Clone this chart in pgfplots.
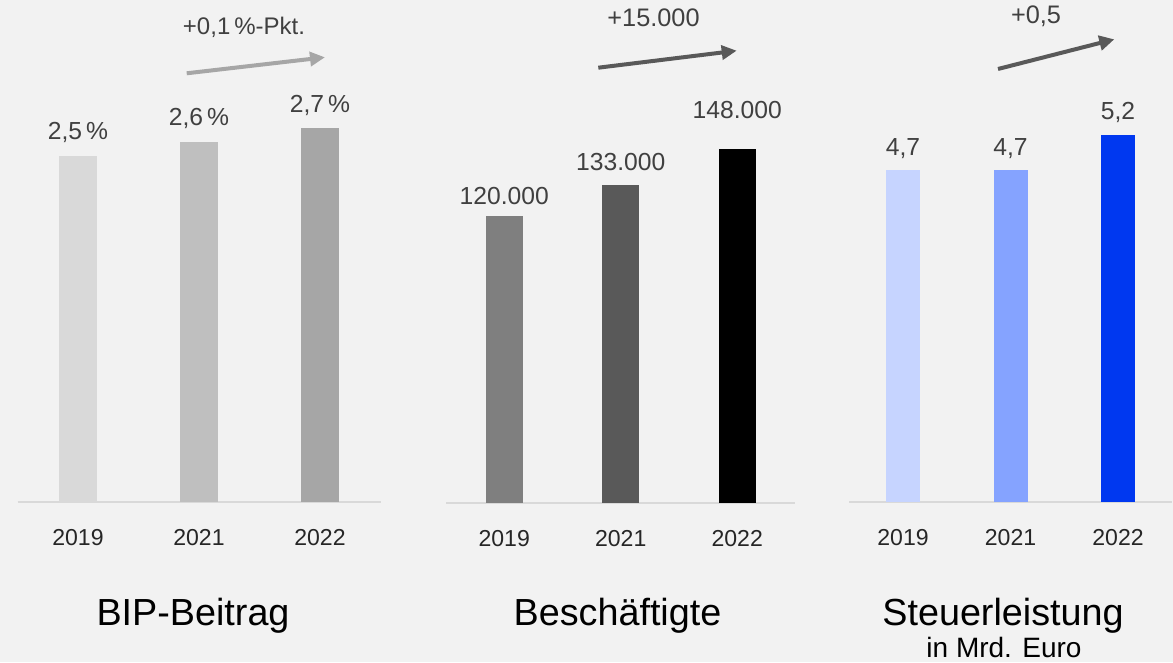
\documentclass[border=0pt]{standalone}
\usepackage{fontspec}
\setmainfont{Liberation Sans}
\usepackage{pgfplots}
\pgfplotsset{compat=1.18}
\usetikzlibrary{arrows.meta}
\definecolor{bg}{HTML}{F2F2F2}
\definecolor{basec}{HTML}{D9D9D9}
\definecolor{valc}{HTML}{404040}
\definecolor{tickc}{HTML}{262626}
\definecolor{ga}{HTML}{D9D9D9}
\definecolor{gb}{HTML}{BFBFBF}
\definecolor{gc}{HTML}{A6A6A6}
\definecolor{da}{HTML}{7F7F7F}
\definecolor{db}{HTML}{595959}
\definecolor{dc}{HTML}{000000}
\definecolor{ba}{HTML}{C6D4FF}
\definecolor{bb}{HTML}{85A3FF}
\definecolor{bc}{HTML}{0038F0}
\pgfplotsset{
  panel/.style={
    scale only axis, anchor=south west,
    axis y line=none, axis x line=bottom,
    x axis line style={-, draw=basec, line width=1.5pt},
    xmin=-0.5, xmax=2.5, ymin=0,
    enlargelimits=false, clip=false,
    xtick={0,1,2}, xticklabels={2019,2021,2022},
    major tick length=0pt, ytick=\empty,
    xticklabel style={font=\fontsize{17.3}{19}\selectfont, text=tickc, anchor=center, yshift=-27pt},
    ybar, bar shift=0pt,
    point meta=explicit symbolic,
  },
  lab/.style={nodes near coords,
    nodes near coords style={anchor=base, inner sep=0pt, yshift=#1, font=\fontsize{18.5}{20}\selectfont, text=valc}},
}
\begin{document}
\begin{tikzpicture}
\begin{scope}[x=0.75pt,y=0.75pt]
\fill[bg] (0,0) rectangle (1173,662);
\useasboundingbox (0,0) rectangle (1173,662);
\end{scope}

% Panel 1: BIP-Beitrag
\begin{axis}[panel, at={(13.125pt,120pt)}, width=272.25pt, height=311.4pt, ymax=3]
\addplot[fill=ga, draw=none, bar width=28.5pt, lab=12.4pt] coordinates {(0,2.5) [2,5\,\%]};
\addplot[fill=gb, draw=none, bar width=28.5pt, lab=12.2pt] coordinates {(1,2.6) [2,6\,\%]};
\addplot[fill=gc, draw=none, bar width=28.5pt, lab=12.2pt] coordinates {(2,2.7) [2,7\,\%]};
\end{axis}

% Panel 2: Beschaeftigte
\begin{axis}[panel, at={(334.5pt,119.625pt)}, width=262.1pt, height=286.35pt, ymax=160000]
\addplot[fill=da, draw=none, bar width=27.75pt, lab=8.8pt] coordinates {(0,120000) [120.000]};
\addplot[fill=db, draw=none, bar width=27.75pt, lab=10.7pt] coordinates {(1,133000) [133.000]};
\addplot[fill=dc, draw=none, bar width=27.75pt, lab=23pt] coordinates {(2,148000) [148.000]};
\end{axis}

% Panel 3: Steuerleistung
\begin{axis}[panel, at={(636.94pt,120pt)}, width=241.9pt, height=317.7pt, ymax=6]
\addplot[fill=ba, draw=none, bar width=25.5pt, lab=11.25pt] coordinates {(0,4.7) [4,7]};
\addplot[fill=bb, draw=none, bar width=25.5pt, lab=11.25pt] coordinates {(1,4.7) [4,7]};
\addplot[fill=bc, draw=none, bar width=25.5pt, lab=11.8pt] coordinates {(2,5.2) [5,2]};
\end{axis}

\begin{scope}[x=0.75pt,y=0.75pt]
% trend arrows
\draw[gc, line width=3pt, -{Triangle[length=11.25pt,width=10.5pt]}] (186.7,588.7) -- (325,604.7);
\draw[db, line width=3pt, -{Triangle[length=11.25pt,width=10.5pt]}] (598.3,594.3) -- (736.7,611.3);
\draw[db, line width=3pt, -{Triangle[length=11.25pt,width=11pt]}] (998,593) -- (1114.3,622.7);

\node[anchor=base, inner sep=0pt, text=valc, font=\fontsize{18}{20}\selectfont] at (244,627.7) {+0,1\,\%-Pkt.};
\node[anchor=base, inner sep=0pt, text=valc, font=\fontsize{19}{21}\selectfont] at (653.5,635.3) {+15.000};
\node[anchor=base, inner sep=0pt, text=valc, font=\fontsize{19}{21}\selectfont] at (1036,638.7) {+0,5};

% titles
\node[anchor=base, inner sep=0pt, font=\fontsize{28.3}{30}\selectfont] at (193,37) {BIP-Beitrag};
\node[anchor=base, inner sep=0pt, font=\fontsize{28.3}{30}\selectfont] at (617.5,37) {Beschäftigte};
\node[anchor=base, inner sep=0pt, font=\fontsize{28.3}{30}\selectfont] at (1003,37) {Steuerleistung};
\node[anchor=base, inner sep=0pt, font=\fontsize{21}{23}\selectfont] at (1004,4.5) {in Mrd. Euro};
\end{scope}
\end{tikzpicture}
\end{document}
